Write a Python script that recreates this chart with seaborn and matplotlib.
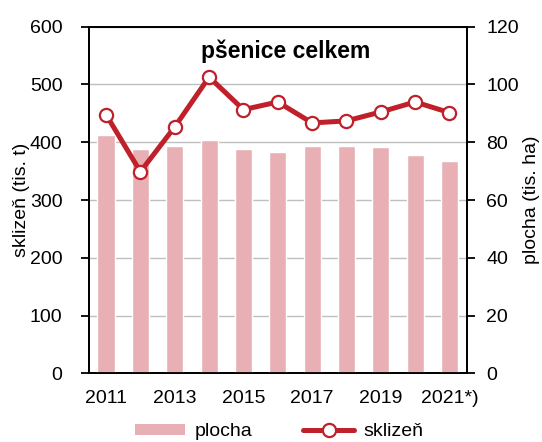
import matplotlib
matplotlib.use("Agg")
import matplotlib.pyplot as plt
import seaborn as sns
from matplotlib.lines import Line2D
from matplotlib.patches import Patch

years = ["2011", "2012", "2013", "2014", "2015", "2016",
         "2017", "2018", "2019", "2020", "2021*)"]
plocha = [82.5, 77.8, 78.7, 80.7, 77.6, 76.7, 78.7, 78.7, 78.2, 75.4, 73.6]
sklizen = [447.7, 348.9, 426.4, 512.6, 456.3, 469.5, 433.3, 436.8, 452.3, 469.5, 451.1]

BAR_COLOR = "#E8B0B4"
LINE_COLOR = "#C0202A"


def main():
    sns.set_style("white")
    plt.rcParams["font.family"] = ["Liberation Sans", "DejaVu Sans"]
    plt.rcParams["text.color"] = "black"
    plt.rcParams["axes.labelcolor"] = "black"
    plt.rcParams["xtick.color"] = "black"
    plt.rcParams["ytick.color"] = "black"

    fig = plt.figure(figsize=(5.42, 4.42), dpi=100)
    ax = fig.add_subplot(111)
    ax2 = ax.twinx()
    fig.subplots_adjust(left=0.164, right=0.861, top=0.94, bottom=0.155)

    # bars on the right axis, drawn behind the line axis
    sns.barplot(x=years, y=plocha, ax=ax2, color=BAR_COLOR, width=0.5,
                saturation=1, zorder=3)
    ax2.set_ylim(0, 120)
    ax2.set_yticks(range(0, 121, 20))
    ax2.grid(axis="y", color="#BFBFBF", linewidth=1.0, zorder=0)
    ax2.set_axisbelow(True)
    ax2.set_ylabel("plocha (tis. ha)", fontsize=14, labelpad=3)

    # line on the left axis
    ax.set_zorder(ax2.get_zorder() + 1)
    ax.patch.set_visible(False)
    sns.lineplot(x=years, y=sklizen, ax=ax, color=LINE_COLOR, linewidth=3.6,
                 marker="o", markersize=9.5, markerfacecolor="white",
                 markeredgecolor=LINE_COLOR, markeredgewidth=1.6,
                 clip_on=False)
    ax.set_ylim(0, 600)
    ax.set_yticks(range(0, 601, 100))
    ax.set_ylabel("sklizeň (tis. t)", fontsize=14, labelpad=0)
    ax.grid(False)

    for a in (ax, ax2):
        a.set_xlim(-0.5, len(years) - 0.5)
        for s in a.spines.values():
            s.set_color("black")
            s.set_linewidth(1.3)

    # x axis: labels every other year, ticks between categories
    ax.set_xticks(range(0, len(years), 2))
    ax.set_xticklabels(years[::2])
    ax.set_xticks([i - 0.5 for i in range(len(years) + 1)], minor=True)
    ax.tick_params(axis="x", which="major", length=0, labelsize=14, pad=12)
    ax.tick_params(axis="x", which="minor", length=6, width=1.3,
                   direction="out", color="black")
    ax.tick_params(axis="y", length=6, width=1.3, direction="out",
                   labelsize=14, pad=13, left=True, color="black")
    ax2.tick_params(axis="y", length=6, width=1.3, direction="out",
                    labelsize=14, pad=8, right=True, color="black")
    ax2.tick_params(axis="x", which="both", bottom=False, labelbottom=False)
    ax.set_xlabel("")
    ax2.set_xlabel("")

    ax.text(0.52, 0.93, "pšenice celkem", transform=ax.transAxes,
            ha="center", va="center", fontsize=16.5, fontweight="bold",
            color="black")

    handles = [
        Patch(facecolor=BAR_COLOR, edgecolor="none"),
        Line2D([], [], color=LINE_COLOR, linewidth=3.6, marker="o",
               markersize=9.5, markerfacecolor="white",
               markeredgecolor=LINE_COLOR, markeredgewidth=1.6),
    ]
    fig.legend(handles, ["plocha", "sklizeň"], loc="lower center",
               bbox_to_anchor=(0.515, -0.035), ncol=2, frameon=False,
               fontsize=14, handlelength=2.6, handleheight=0.5,
               handletextpad=0.5, columnspacing=2.6)

    fig.savefig("out.png", dpi=100)
    plt.close(fig)


if __name__ == "__main__":
    main()
